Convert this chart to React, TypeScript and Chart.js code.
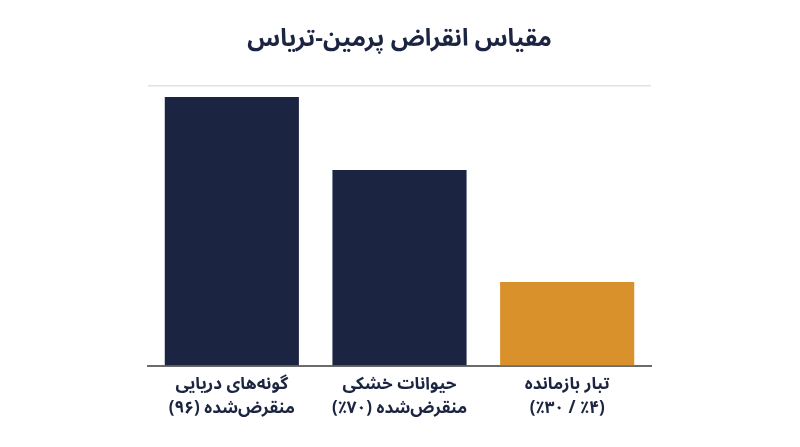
import React, { useEffect, useRef } from "react";
import { Chart, registerables } from "chart.js";

Chart.register(...registerables);

const ALM = "\u061C";
const title = "مقیاس انقراض پرمین-تریاس";
const categories: string[][] = [
  ["گونه‌های دریایی", "منقرض‌شده (۹۶)"],
  ["حیوانات خشکی", "منقرض‌شده (۷۰٪)"],
  ["تبار بازمانده", ALM + "(۴٪ / ۳۰٪)"],
];
const values = [96, 70, 30];
const barColors = ["#1b2441", "#1b2441", "#d9912b"];
const yMax = 100;

const FONT = "'Noto Sans Arabic', 'DejaVu Sans', sans-serif";

const rtlPlugin = {
  id: "rtlText",
  beforeDraw(chart: any) {
    chart.ctx.direction = "rtl";
  },
};

export default function App() {
  const ref = useRef<HTMLCanvasElement | null>(null);
  useEffect(() => {
    document.body.style.margin = "0";
    const canvas = ref.current;
    if (!canvas) return;
    const chart = new Chart(canvas, {
      type: "bar",
      plugins: [rtlPlugin],
      data: {
        labels: categories,
        datasets: [
          {
            data: values,
            backgroundColor: barColors,
            borderWidth: 0,
            categoryPercentage: 1,
            barPercentage: 0.8,
          },
        ],
      },
      options: {
        animation: false,
        responsive: false,
        maintainAspectRatio: false,
        layout: { padding: { left: 148, right: 149, top: 0, bottom: 16 } },
        plugins: {
          legend: { display: false },
          tooltip: { enabled: false },
          title: {
            display: true,
            text: title,
            color: "#1b2441",
            font: { family: FONT, size: 24, weight: "bold" },
            padding: { top: 28, bottom: 29 },
          },
        },
        scales: {
          x: {
            grid: { display: false, drawTicks: false },
            border: { display: true, color: "#6b6b6b", width: 2 },
            ticks: {
              color: "#1b2441",
              font: { family: FONT, size: 17, weight: "bold", lineHeight: 1.38 },
              padding: 9,
              maxRotation: 0,
            },
          },
          y: {
            min: 0,
            max: yMax,
            ticks: { display: false, stepSize: 20 },
            border: { display: false },
            grid: {
              drawTicks: false,
              color: (ctx: any) => (ctx.tick && ctx.tick.value === yMax ? "#e2e2e2" : "rgba(0,0,0,0)"),
              lineWidth: 1.5,
            },
          },
        },
      },
    });
    return () => chart.destroy();
  }, []);
  return (
    <div dir="rtl" style={{ width: 800, height: 447, background: "#fff" }}>
      <canvas ref={ref} width={800} height={447} style={{ display: "block", width: 800, height: 447 }} />
    </div>
  );
}
